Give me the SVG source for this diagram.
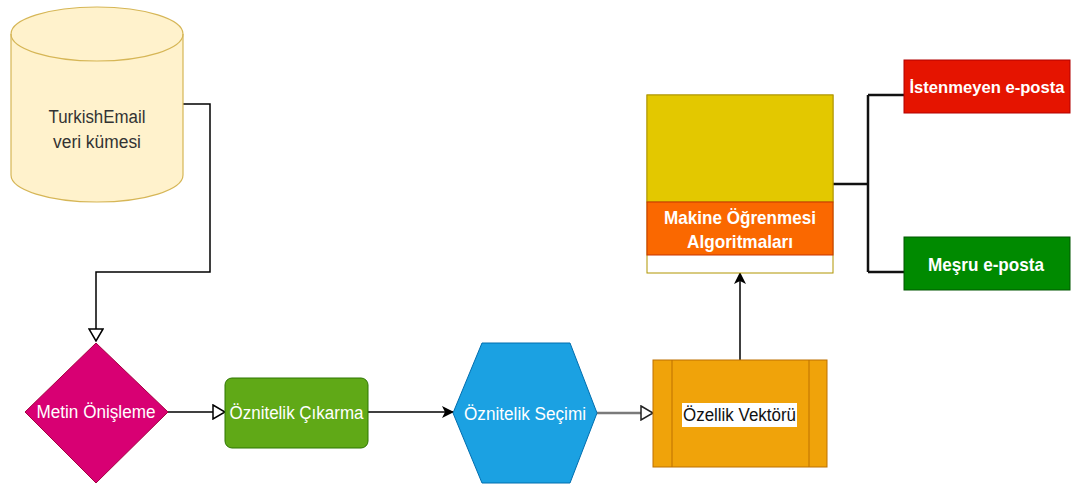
<svg xmlns="http://www.w3.org/2000/svg" width="1072" height="486" viewBox="0 0 1072 486">
  <style>
    .lbl { font-family: "Liberation Sans", Arial, sans-serif; font-size: 18px; text-anchor: middle; }
    .w { fill: #ffffff; }
    .b { font-weight: bold; font-size: 19px; }
    .edge { fill: none; stroke: #000000; stroke-width: 1.5; }
  </style>
  <defs>
    <marker id="open" viewBox="0 0 14 16" refX="13" refY="8" markerWidth="14" markerHeight="16" markerUnits="userSpaceOnUse" orient="auto">
      <path d="M1,1 L13,8 L1,15 Z" fill="#ffffff" stroke="#000000" stroke-width="1.5"/>
    </marker>
    <marker id="openGray" viewBox="0 0 14 16" refX="13" refY="8" markerWidth="14" markerHeight="16" markerUnits="userSpaceOnUse" orient="auto">
      <path d="M1,1 L13,8 L1,15 Z" fill="#ffffff" stroke="#222222" stroke-width="1.5"/>
    </marker>
    <marker id="solid" viewBox="0 0 12 12" refX="11" refY="6" markerWidth="12" markerHeight="12" markerUnits="userSpaceOnUse" orient="auto">
      <path d="M0,0 L12,6 L0,12 L3,6 Z" fill="#000000"/>
    </marker>
  </defs>

  <!-- connectors -->
  <g id="connectors">
    <path class="edge" d="M183,104 H210 V272 H96 V341" stroke="#333333" marker-end="url(#open)"/>
    <path class="edge" d="M168,412 H225" marker-end="url(#open)"/>
    <path class="edge" d="M368,412 H453" marker-end="url(#solid)"/>
    <path d="M597,413 H653" fill="none" stroke="#7a7a7a" stroke-width="2.5" marker-end="url(#openGray)"/>
    <path class="edge" d="M740,360 V273" marker-end="url(#solid)"/>
    <path d="M833,184 H868 M868,95 V272 M868,95 H904 M868,272 H904" fill="none" stroke="#111111" stroke-width="2.5"/>
  </g>

  <!-- dataset cylinder -->
  <g id="dataset">
    <path d="M11,34 A86,27 0 0 1 183,34 L183,175 A86,27 0 0 1 11,175 Z" fill="#fff2cc" stroke="#d6b656" stroke-width="1.2"/>
    <path d="M11,34 A86,27 0 0 0 183,34" fill="none" stroke="#d6b656" stroke-width="1.2"/>
    <text class="lbl" x="97" y="123" fill="#333333" textLength="97" lengthAdjust="spacingAndGlyphs">TurkishEmail</text>
    <text class="lbl" x="97" y="148" fill="#333333" textLength="88" lengthAdjust="spacingAndGlyphs">veri kümesi</text>
  </g>

  <!-- preprocessing diamond -->
  <g id="preprocess">
    <path d="M96,343 L168,412 L96,483 L25,412 Z" fill="#d80073" stroke="#a50040" stroke-width="1"/>
    <text class="lbl w" x="96" y="418" textLength="119" lengthAdjust="spacingAndGlyphs">Metin Önişleme</text>
  </g>

  <!-- feature extraction -->
  <g id="extraction">
    <rect x="225" y="378" width="143" height="70" rx="7" fill="#60a917" stroke="#2d7600" stroke-width="1"/>
    <text class="lbl w" x="296.5" y="419" textLength="134" lengthAdjust="spacingAndGlyphs">Öznitelik Çıkarma</text>
  </g>

  <!-- feature selection hexagon -->
  <g id="selection">
    <path d="M453,413 L482,343 L570,343 L597,413 L570,483 L482,483 Z" fill="#1ba1e2" stroke="#006eaf" stroke-width="1"/>
    <text class="lbl w" x="525" y="420" textLength="122" lengthAdjust="spacingAndGlyphs">Öznitelik Seçimi</text>
  </g>

  <!-- feature vector -->
  <g id="vector">
    <rect x="653" y="360" width="174" height="107" fill="#f0a30a" stroke="#bd7000" stroke-width="1"/>
    <path d="M672,360 V467 M809,360 V467" stroke="#bd7000" stroke-width="1"/>
    <rect x="682" y="403" width="115" height="24" fill="#ffffff"/>
    <text class="lbl" x="739.5" y="421" fill="#111111" textLength="113" lengthAdjust="spacingAndGlyphs">Özellik Vektörü</text>
  </g>

  <!-- machine learning algorithms -->
  <g id="ml">
    <rect x="647" y="95" width="186" height="178" fill="#ffffff" stroke="#b09500" stroke-width="1"/>
    <rect x="647" y="95" width="186" height="107" fill="#e3c800" stroke="#b09500" stroke-width="1"/>
    <rect x="647" y="202" width="186" height="53" fill="#fa6800" stroke="#c73500" stroke-width="1"/>
    <text class="lbl w b" x="740" y="224" textLength="152" lengthAdjust="spacingAndGlyphs">Makine Öğrenmesi</text>
    <text class="lbl w b" x="740" y="248" textLength="106" lengthAdjust="spacingAndGlyphs">Algoritmaları</text>
  </g>

  <!-- spam output -->
  <g id="spam">
    <rect x="904" y="60" width="166" height="53" fill="#e51400" stroke="#b20000" stroke-width="1"/>
    <text class="lbl w b" x="987" y="93" style="font-size:17px" textLength="155" lengthAdjust="spacingAndGlyphs">İstenmeyen e-posta</text>
  </g>

  <!-- legitimate output -->
  <g id="ham">
    <rect x="904" y="237" width="166" height="53" fill="#008a00" stroke="#005700" stroke-width="1"/>
    <text class="lbl w b" x="986" y="271" textLength="116" lengthAdjust="spacingAndGlyphs">Meşru e-posta</text>
  </g>
</svg>
